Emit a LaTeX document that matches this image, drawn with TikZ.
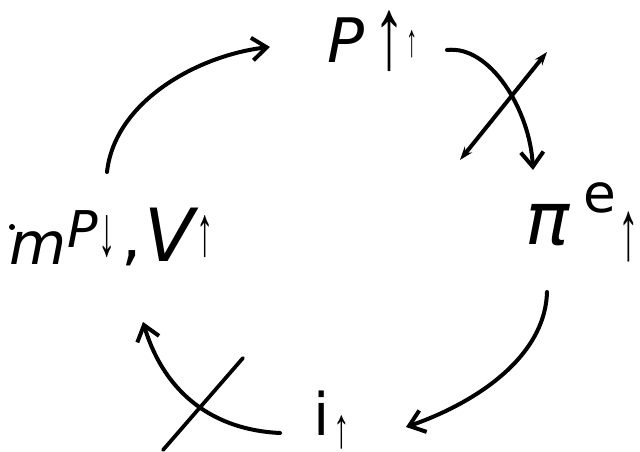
\documentclass[tikz,border=0pt]{standalone}
\usepackage{fontspec}
\setmainfont{DejaVu Sans}
\newfontfamily\arr{Liberation Sans}
\usetikzlibrary{arrows.meta}
\newcommand{\fs}[1]{\fontsize{#1}{#1}\selectfont}
\newcommand{\tall}[2][2.05]{\scalebox{1}[#1]{#2}}
\begin{document}
\begin{tikzpicture}[x=0.75pt,y=-0.75pt,
  lbl/.style={inner sep=0pt,anchor=center},
  flow/.style={line width=3pt,line cap=round,-{Straight Barb[length=11pt,width=17pt,line width=3pt]}},
  crossline/.style={line width=3pt,line cap=round,{Stealth[length=10pt,width=7pt]}-{Stealth[length=10pt,width=7pt]}},
  slash/.style={line width=2.8pt,line cap=round}]
\useasboundingbox (0,0) rectangle (640,452);
% top label
\node[lbl,font=\fs{46}\itshape] (P) at (346,40) {P};
\node[lbl,font=\fs{48}\arr] (Pup) at (389,41) {\tall[1.6]{↑}};
\node[lbl,font=\fs{17}\arr] (Pup2) at (412,44) {\tall{↑}};
% right label
\node[lbl,font=\fs{55}\itshape] (pi) at (548,225) {π};
\node[lbl,font=\fs{40}] (e) at (600,198) {e};
\node[lbl,font=\fs{31}\arr] (piup) at (629,237) {\tall{↑}};
% bottom label
\node[lbl,font=\fs{44}] (i) at (322,413) {i};
\node[lbl,font=\fs{25}\arr] (iup) at (342,432) {\tall[1.7]{↑}};
% left label
\node[circle,fill,inner sep=0pt,minimum size=4.5pt] (dot) at (12,227) {};
\node[lbl,font=\fs{44}\itshape] (m) at (38,248) {m};
\node[lbl,font=\fs{38}\itshape] (mP) at (83,229) {P};
\node[lbl,font=\fs{26}\arr] (mPdn) at (107,237) {\tall{↓}};
\node[lbl,font=\fs{48}] (comma) at (132,258) {,};
\node[lbl,font=\fs{55}\itshape] (V) at (170,235) {V};
\node[lbl,font=\fs{26}\arr] (Vup) at (205,237) {\tall{↑}};
% connector end points
\coordinate (a1s) at (107,172);
\coordinate (a1e) at (270,47);
\coordinate (a2s) at (447,50);
\coordinate (a2e) at (533,170);
\coordinate (a3s) at (547,292);
\coordinate (a3e) at (406,427);
\coordinate (a4s) at (280,433);
\coordinate (a4e) at (143,322);
\coordinate (c1s) at (460,160);
\coordinate (c1e) at (547,52);
\coordinate (c2s) at (163,450);
\coordinate (c2e) at (243,358);
% connectors
\draw[flow] (a1s) .. controls (115,100) and (200,55) .. (a1e);
\draw[flow] (a2s) .. controls (490,45) and (530,110) .. (a2e);
\draw[flow] (a3s) .. controls (545,360) and (470,405) .. (a3e);
\draw[flow] (a4s) .. controls (215,430) and (165,395) .. (a4e);
\draw[crossline] (c1s) -- (c1e);
\draw[slash] (c2s) -- (c2e);
\end{tikzpicture}
\end{document}
